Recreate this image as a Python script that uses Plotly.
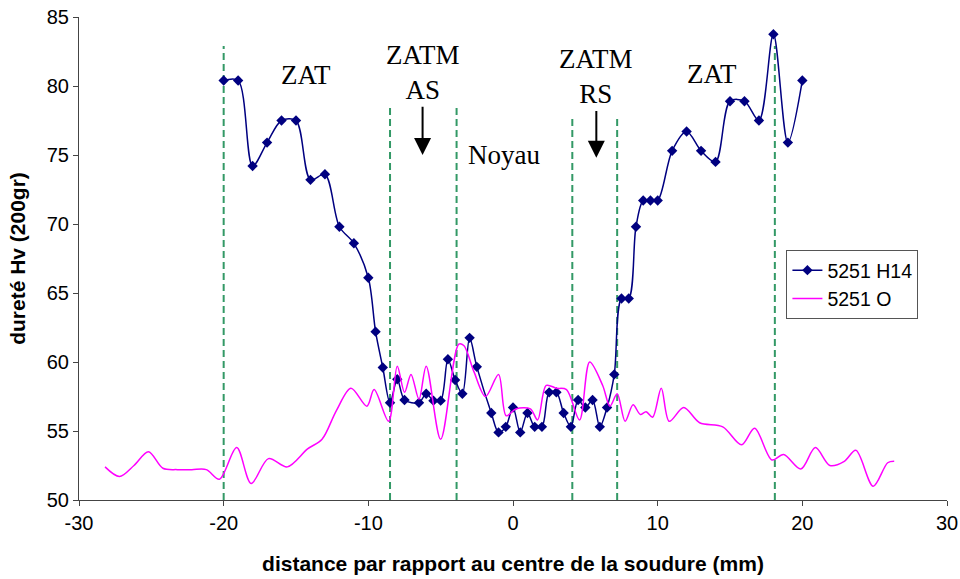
import plotly.graph_objects as go

# --- data ---
h14_x = [-20, -19, -18, -17, -16, -15, -14, -13, -12, -11, -10, -9.5, -9, -8.5, -8, -7.5,
         -6.5, -6, -5.5, -5, -4.5, -4, -3.5, -3, -2.5, -1.5, -1, -0.5, 0, 0.5, 1, 1.5, 2,
         2.5, 3, 3.5, 4, 4.5, 5, 5.5, 6, 6.5, 7, 7.5, 8, 8.5, 9, 9.5, 10, 11, 12, 13, 14,
         15, 16, 17, 18, 19, 20]
h14_y = [80.4, 80.4, 74.2, 75.9, 77.5, 77.5, 73.2, 73.6, 69.8, 68.6, 66.1, 62.2, 59.6, 57.05,
         58.75, 57.25, 57.05, 57.7, 57.2, 57.2, 60.2, 58.7, 57.7, 61.75, 59.65, 56.3, 54.9,
         55.3, 56.7, 54.9, 56.3, 55.3, 55.3, 57.8, 57.8, 56.3, 55.3, 57.25, 56.7, 57.25,
         55.3, 56.7, 59.1, 64.6, 64.6, 69.8, 71.7, 71.7, 71.7, 75.3, 76.7, 75.3, 74.5,
         78.9, 78.9, 77.5, 83.75, 75.9, 80.4]

o_x = [-28.2, -27.2, -26.2, -25.2, -24.2, -23.2, -22.2, -21.2, -20.3, -19.1, -18.1, -16.9,
       -15.6, -14.2, -13.2, -12.2, -11.2, -10.1, -9.6, -8.6, -8.0, -7.5, -7.05, -6.5, -6.0,
       -5.0, -3.75, -3.4, -2.7, -1.9, -1.0, -0.47, 0.2, 1.2, 1.7, 2.3, 3.0, 3.7, 4.6, 5.3,
       6.2, 6.7, 7.2, 7.75, 8.3, 8.8, 9.2, 9.65, 10.25, 10.8, 11.8, 12.9, 14.5, 15.8, 16.7,
       17.9, 18.7, 19.9, 20.9, 21.9, 22.9, 23.7, 24.9, 25.9, 26.35]
o_y = [52.4, 51.7, 52.5, 53.5, 52.3, 52.2, 52.2, 52.2, 51.5, 53.8, 51.2, 53.0,
       52.4, 53.7, 54.4, 56.5, 58.1, 56.8, 58.0, 55.7, 59.7, 57.8, 59.1, 57.3, 59.7,
       54.4, 61.3, 61.2, 59.3, 57.5, 59.1, 56.1, 56.6, 56.6, 55.8, 58.3, 58.1, 58.0, 55.8, 60.0,
       58.3, 56.8, 57.7, 55.7, 56.9, 56.2, 56.4, 56.0, 58.1, 55.7, 56.7, 55.6, 55.3, 54.0, 55.2,
       52.9, 53.3, 52.25, 53.8, 52.5, 52.8, 53.6, 51.0, 52.7, 52.8]

x_ticks = [-30, -20, -10, 0, 10, 20, 30]
x_ticktext = ["-30", "-20", "-10", "0", "10", "20", "30"]
y_ticks = [50, 55, 60, 65, 70, 75, 80, 85]

zone_x = [-20, -8.5, -3.9, 4.1, 7.2, 18.1]
zone_top = [82.9, 78.55, 78.55, 77.75, 77.75, 82.9]

labels = ["ZAT", "ZATM<br>AS", "Noyau", "ZATM<br>RS", "ZAT"]
label_x = [-14.3, -6.25, -0.6, 5.76, 13.75]
label_y = [80.8, 81.0, 75.0, 80.7, 80.9]

arrow_x = [-6.25, 5.76]
arrow_from = [78.6, 78.3]
arrow_to = [75.0, 74.8]

fig = go.Figure()

for zx, zt in zip(zone_x, zone_top):
    fig.add_trace(go.Scatter(x=[zx, zx], y=[50, zt], mode="lines",
                             line=dict(color="#339966", width=2, dash="7px,4px"),
                             showlegend=False, hoverinfo="skip"))

fig.add_trace(go.Scatter(x=h14_x, y=h14_y, mode="lines+markers", name="5251 H14",
                         line=dict(color="#000080", width=1.5, shape="spline", smoothing=0.9),
                         marker=dict(symbol="diamond", size=8, color="#000080")))
fig.add_trace(go.Scatter(x=o_x, y=o_y, mode="lines", name="5251 O",
                         line=dict(color="#FF00FF", width=1.5, shape="spline", smoothing=0.9)))

for t, lx, ly in zip(labels, label_x, label_y):
    fig.add_annotation(x=lx, y=ly, text=t, showarrow=False,
                       font=dict(family="Liberation Serif, Times New Roman, serif", size=27, color="black"))

for axx, a0, a1 in zip(arrow_x, arrow_from, arrow_to):
    fig.add_annotation(x=axx, y=a1, ax=axx, ay=a0, axref="x", ayref="y", text="",
                       showarrow=True, arrowhead=2, arrowsize=1.7, arrowwidth=2, arrowcolor="black")

fig.update_layout(
    width=960, height=579,
    margin=dict(l=79, r=13, t=17, b=79),
    paper_bgcolor="white", plot_bgcolor="white",
    font=dict(family="Liberation Sans, Arial, sans-serif", size=20, color="black"),
    showlegend=True,
    legend=dict(x=0.815, y=0.5176, xanchor="left", yanchor="top",
                bgcolor="white", bordercolor="#555555", borderwidth=1,
                font=dict(size=19.5), tracegroupgap=0, itemwidth=30),
)
fig.update_xaxes(range=[-30, 30], tickvals=x_ticks, ticktext=x_ticktext, automargin=False,
                 ticklabeloverflow="allow",
                 showgrid=False, zeroline=False, showline=True, linecolor="#444444", linewidth=1,
                 ticks="outside", ticklen=5, tickcolor="#444444", tickfont=dict(size=20),
                 title=dict(text="<b>distance par rapport au centre de la soudure (mm)</b>",
                            font=dict(size=21), standoff=23))
fig.update_yaxes(range=[50, 85], tickvals=y_ticks, automargin=False,
                 ticklabeloverflow="allow",
                 showgrid=False, zeroline=False, showline=True, linecolor="#444444", linewidth=1,
                 ticks="outside", ticklen=5, tickcolor="#444444", tickfont=dict(size=20),
                 title=dict(text="<b>dureté Hv (200gr)</b>", font=dict(size=21)))

# remove the default 8px page margin so the 960x579 figure fills the window exactly
fig.write_html("out.html", config={"displayModeBar": False},
               post_script="document.body.style.margin='0';document.body.style.overflow='hidden';")
